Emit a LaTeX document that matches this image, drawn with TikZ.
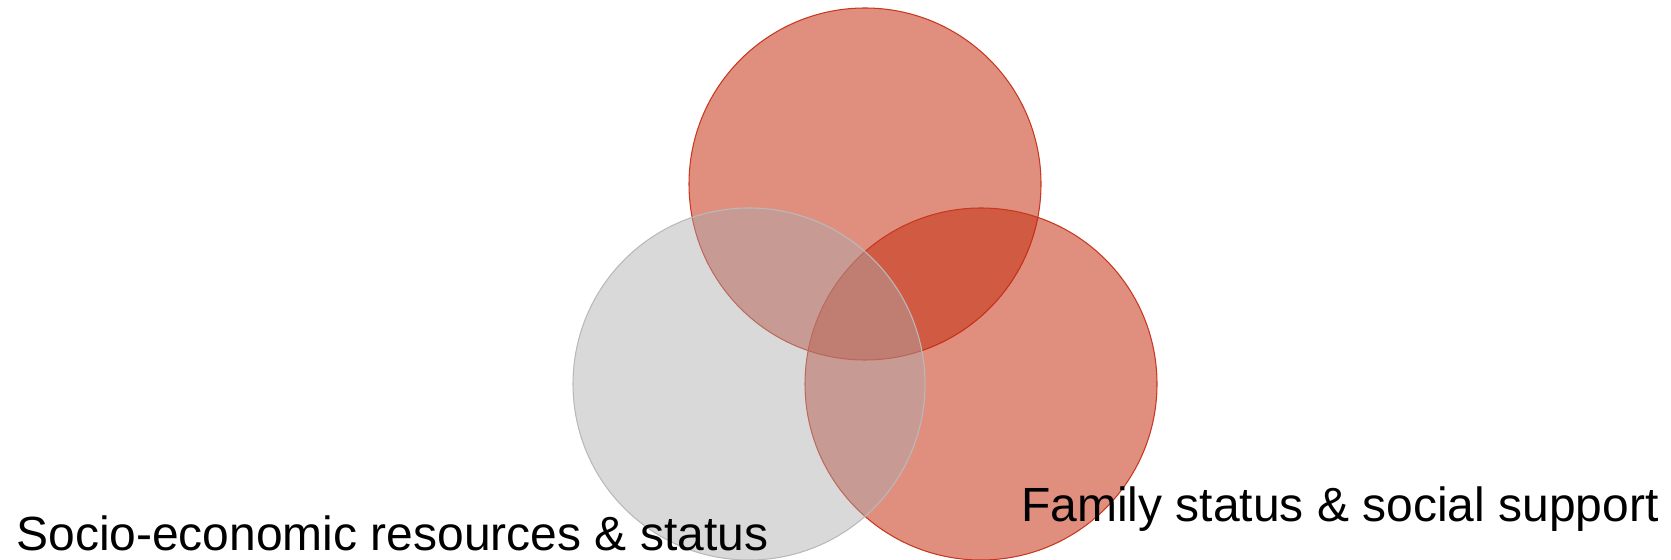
\documentclass[tikz,border=0pt]{standalone}
\usepackage{fontspec}
\setmainfont{Liberation Sans}
\usepackage{tikz}
\usetikzlibrary{shapes.geometric}
\usetikzlibrary{positioning}
\definecolor{setred}{RGB}{196,43,14}
\definecolor{setredline}{RGB}{200,55,30}
\definecolor{setgrey}{RGB}{171,171,171}
\definecolor{setgreyline}{RGB}{185,185,185}
\tikzset{redset/.style={circle,minimum size=7.04cm,inner sep=0pt,fill=setred,fill opacity=0.53,draw=setredline,draw opacity=1,line width=0.6pt},greyset/.style={circle,minimum size=7.04cm,inner sep=0pt,fill=setgrey,fill opacity=0.45,draw=setgreyline,draw opacity=1,line width=0.6pt},setlabel/.style={font=\fontsize{27.3}{32}\selectfont,inner sep=0pt,anchor=base west}}

\begin{document}
\begin{tikzpicture}
\useasboundingbox (0,0) rectangle (33.42,11.2);
\node[redset] (top) at (17.30,7.52) {};
\node[redset] (family) at (19.62,3.52) {};
\node[greyset] (socio) at (14.98,3.52) {};
\node[setlabel] (sociolabel) at (0.32,0.18) {Socio-economic resources \& status};
\node[setlabel] (familylabel) at (20.42,0.76) {Family status \& social support};
\end{tikzpicture}
\end{document}
